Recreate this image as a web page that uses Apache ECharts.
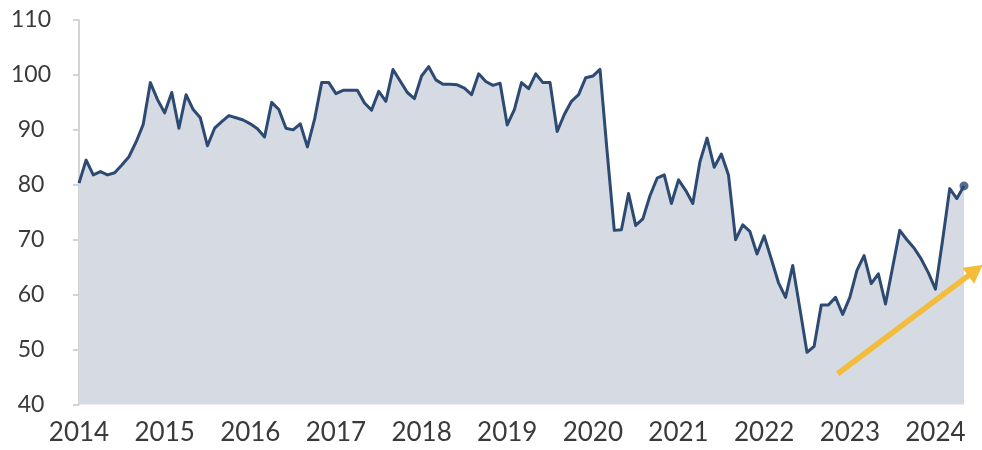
<!DOCTYPE html>
<html>
<head>
<meta charset="utf-8">
<title>Index 2014–2024</title>
<script src="https://cdn.jsdelivr.net/npm/echarts@6/dist/echarts.min.js"></script>
<style>
  html, body { margin: 0; padding: 0; background: #ffffff; }
  #chart { width: 982px; height: 450px; }
</style>
</head>
<body>
<div id="chart"></div>
<script>
// Monthly index readings, January 2014 through May 2024
const yearLabels = ['2014', '2015', '2016', '2017', '2018', '2019', '2020', '2021', '2022', '2023', '2024'];

const values2014 = [80.3, 84.5, 81.8, 82.4, 81.8, 82.2, 83.6, 85.1, 87.8, 91.0, 98.6, 95.5];
const values2015 = [93.1, 96.8, 90.3, 96.4, 93.7, 92.2, 87.1, 90.3, 91.5, 92.6, 92.2, 91.8];
const values2016 = [91.1, 90.2, 88.7, 95.0, 93.7, 90.3, 90.0, 91.1, 86.9, 91.9, 98.6, 98.6];
const values2017 = [96.6, 97.2, 97.2, 97.2, 94.9, 93.6, 97.0, 95.2, 101.0, 98.9, 96.8, 95.7];
const values2018 = [99.8, 101.5, 99.1, 98.3, 98.3, 98.2, 97.6, 96.4, 100.2, 98.8, 98.1, 98.5];
const values2019 = [90.9, 93.7, 98.6, 97.5, 100.2, 98.6, 98.6, 89.7, 92.8, 95.2, 96.4, 99.5];
const values2020 = [99.8, 101.0, 86.0, 71.7, 71.8, 78.4, 72.6, 73.8, 78.0, 81.2, 81.8, 76.6];
const values2021 = [80.9, 79.0, 76.6, 84.2, 88.5, 83.2, 85.6, 81.8, 70.0, 72.7, 71.5, 67.4];
const values2022 = [70.7, 66.5, 62.2, 59.5, 65.3, 57.5, 49.5, 50.6, 58.1, 58.1, 59.5, 56.4];
const values2023 = [59.5, 64.4, 67.1, 62.0, 63.8, 58.3, 65.0, 71.7, 70.0, 68.5, 66.5, 64.0];
const values2024 = [61.0, 69.9, 79.3, 77.5, 79.8];

// Trend arrow, given in data space: [month index, index level]
const trendFrom = [106.3, 45.6];
const trendTo = [126.6, 65.4];

const yTicks = { min: 40, max: 110, step: 10 };

const values = [].concat(values2014, values2015, values2016, values2017, values2018,
  values2019, values2020, values2021, values2022, values2023, values2024);
const points = values.map((v, i) => [i, v]);
const lastIndex = values.length - 1;

const LINE = '#2c4a72';
const FILL = '#d6dae3';
const TEXT = '#3a3a3a';
const AXIS = '#d4d4d4';
const ARROW = '#f3bd3b';
const FONT = 'Lato, "Open Sans", sans-serif';

const chart = echarts.init(document.getElementById('chart'), null, { renderer: 'canvas' });

chart.setOption({
  backgroundColor: '#ffffff',
  animation: false,
  grid: { left: 79, right: 18, top: 20, bottom: 45.5, containLabel: false },
  xAxis: {
    type: 'value',
    min: 0,
    max: lastIndex,
    interval: 12,
    axisLine: { show: false },
    axisTick: { show: false },
    splitLine: { show: false },
    axisLabel: {
      color: TEXT,
      fontFamily: FONT,
      fontSize: 26,
      margin: 15,
      showMaxLabel: false,
      formatter: v => (v % 12 === 0 && yearLabels[v / 12]) ? yearLabels[v / 12] : ''
    }
  },
  yAxis: {
    type: 'value',
    min: yTicks.min,
    max: yTicks.max,
    interval: yTicks.step,
    offset: 6,
    axisLine: { show: true, lineStyle: { color: AXIS, width: 2 } },
    axisTick: { show: true, length: 6, lineStyle: { color: AXIS, width: 2 } },
    splitLine: { show: false },
    axisLabel: {
      color: TEXT,
      fontFamily: FONT,
      fontSize: 23,
      align: 'center',
      margin: 42
    }
  },
  series: [
    {
      name: 'Index',
      type: 'line',
      data: points,
      showSymbol: false,
      symbol: 'none',
      lineStyle: { color: LINE, width: 3, join: 'round' },
      areaStyle: { color: FILL, opacity: 1, origin: 'start' },
      z: 2
    },
    {
      name: 'Latest',
      type: 'scatter',
      data: [points[lastIndex]],
      symbol: 'circle',
      symbolSize: 9,
      itemStyle: { color: LINE },
      z: 3
    }
  ]
});

// Trend arrow drawn from its data-space anchors
function drawTrendArrow() {
  const p0 = chart.convertToPixel({ gridIndex: 0 }, trendFrom);
  const p1 = chart.convertToPixel({ gridIndex: 0 }, trendTo);
  const dx = p1[0] - p0[0];
  const dy = p1[1] - p0[1];
  const len = Math.sqrt(dx * dx + dy * dy);
  const ux = dx / len, uy = dy / len;
  const nx = -uy, ny = ux;
  const headLen = 18, headHalf = 10;
  const base = [p1[0] - ux * headLen, p1[1] - uy * headLen];
  chart.setOption({
    graphic: [
      {
        type: 'line',
        z: 10,
        shape: { x1: p0[0], y1: p0[1], x2: base[0] + ux * 2, y2: base[1] + uy * 2 },
        style: { stroke: ARROW, lineWidth: 5.5, lineCap: 'butt' }
      },
      {
        type: 'polygon',
        z: 10,
        shape: {
          points: [
            [p1[0], p1[1]],
            [base[0] + nx * headHalf, base[1] + ny * headHalf],
            [base[0] - nx * headHalf, base[1] - ny * headHalf]
          ]
        },
        style: { fill: ARROW }
      }
    ]
  });
}
drawTrendArrow();
</script>
</body>
</html>
